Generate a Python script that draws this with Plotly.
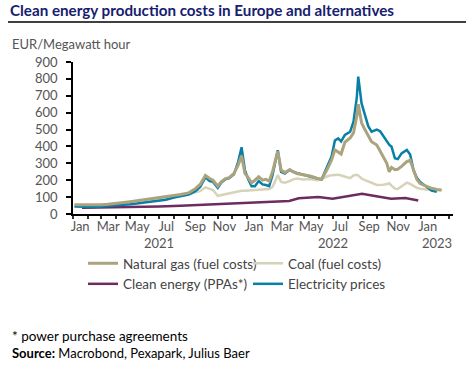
import plotly.graph_objects as go

# ---- data ----
dates_main = [
    "2021-01-04", "2021-01-18", "2021-02-01", "2021-02-15", "2021-03-01", "2021-03-15",
    "2021-04-01", "2021-04-15", "2021-05-01", "2021-05-15", "2021-06-01", "2021-06-15",
    "2021-07-01", "2021-07-15", "2021-08-01", "2021-08-15", "2021-09-01", "2021-09-15",
    "2021-09-25", "2021-10-06", "2021-10-15", "2021-10-22", "2021-11-01", "2021-11-08",
    "2021-11-17", "2021-11-25", "2021-12-05", "2021-12-14", "2021-12-21", "2021-12-28",
    "2022-01-04", "2022-01-11", "2022-01-18", "2022-01-26", "2022-02-03", "2022-02-10",
    "2022-02-17", "2022-02-24", "2022-03-03", "2022-03-07", "2022-03-14", "2022-03-22",
    "2022-04-01", "2022-04-08", "2022-04-16", "2022-04-29", "2022-05-14", "2022-05-28",
    "2022-06-07", "2022-06-18", "2022-06-28", "2022-07-05", "2022-07-12", "2022-07-18",
    "2022-07-26", "2022-08-06", "2022-08-13", "2022-08-20", "2022-08-23", "2022-08-30",
    "2022-09-06", "2022-09-13", "2022-09-20", "2022-10-01", "2022-10-08", "2022-10-15",
    "2022-10-22", "2022-10-27", "2022-11-01", "2022-11-08", "2022-11-14", "2022-11-22",
    "2022-12-03", "2022-12-10", "2022-12-17", "2022-12-24", "2022-12-31", "2023-01-13",
    "2023-01-24", "2023-02-04", "2023-02-14",
]
natural_gas = [
    55, 55, 52, 53, 55, 58, 62, 68, 73, 78, 85, 92,
    98, 100, 108, 115, 125, 150, 175, 228, 210, 200, 165, 190,
    210, 215, 240, 290, 345, 240, 215, 185, 200, 220, 200, 205,
    195, 250, 330, 372, 260, 245, 262, 250, 240, 232, 225, 212,
    205, 260, 320, 380, 365, 355, 425, 450, 480, 580, 650, 540,
    500, 460, 428, 408, 370, 330, 300, 250, 276, 262, 265, 282,
    310, 318, 262, 205, 180, 165, 152, 145, 142,
]
coal = [
    50, 50, 48, 50, 52, 54, 57, 62, 66, 70, 76, 82,
    88, 93, 100, 108, 118, 125, 135, 158, 148, 142, 108, 112,
    120, 124, 130, 134, 138, 138, 140, 140, 142, 145, 148, 150,
    148, 160, 200, 230, 190, 185, 195, 205, 210, 205, 207, 200,
    205, 222, 230, 232, 233, 228, 222, 212, 228, 232, 228, 210,
    200, 190, 185, 172, 172, 173, 178, 182, 168, 150, 148, 162,
    185, 178, 166, 155, 150, 145, 142, 142, 140,
]
electricity = [
    45, 43, 42, 42, 45, 47, 50, 55, 58, 62, 68, 75,
    82, 84, 98, 105, 115, 135, 160, 217, 195, 190, 155, 185,
    205, 212, 235, 310, 395, 260, 205, 165, 165, 195, 175, 172,
    165, 230, 320, 378, 250, 240, 262, 250, 243, 232, 222, 212,
    205, 278, 340, 435, 448, 430, 468, 487, 545, 690, 813, 655,
    580, 520, 487, 500, 490, 458, 428, 410, 398, 330, 325, 359,
    379, 352, 260, 215, 190, 160, 138, 132, None,
]
dates_clean = [
    "2021-01-20", "2021-03-01", "2021-05-01", "2021-07-01", "2021-08-15", "2021-10-01",
    "2021-11-15", "2022-01-01", "2022-02-15", "2022-03-31", "2022-04-20", "2022-05-31",
    "2022-06-30", "2022-07-31", "2022-08-31", "2022-09-30", "2022-10-31", "2022-11-30",
    "2022-12-27",
]
clean_energy = [
    37, 38, 41, 45, 49, 55, 57, 63, 70, 77, 93, 100,
    90, 103, 120, 105, 90, 95, 80,
]

month_tick_dates = [
    "2021-01-16", "2021-03-16", "2021-05-16", "2021-07-16", "2021-09-15", "2021-11-15",
    "2022-01-16", "2022-03-16", "2022-05-16", "2022-07-16", "2022-09-15", "2022-11-15",
    "2023-01-16",
]
month_tick_text = ["Jan", "Mar", "May", "Jul", "Sep", "Nov",
                   "Jan", "Mar", "May", "Jul", "Sep", "Nov", "Jan"]
year_boundaries = ["2021-01-01", "2022-01-01", "2023-01-01"]
year_label_dates = ["2021-07-01", "2022-07-01", "2023-02-05"]
year_labels = ["2021", "2022", "2023"]
y_ticks = [0, 100, 200, 300, 400, 500, 600, 700, 800, 900]

# ---- styling ----
FONT = "Lato"
GRAY = "#555555"
C_GAS = "#aba37d"
C_COAL = "#d6d3b8"
C_CLEAN = "#6d2b62"
C_ELEC = "#0a7fa6"

fig = go.Figure()
fig.add_trace(go.Scatter(x=dates_main, y=coal, name="Coal (fuel costs)", mode="lines",
                         line=dict(color=C_COAL, width=2.5), legendrank=2))
fig.add_trace(go.Scatter(x=dates_clean, y=clean_energy, name="Clean energy (PPAs*)", mode="lines",
                         line=dict(color=C_CLEAN, width=2.5), legendrank=3))
fig.add_trace(go.Scatter(x=dates_main, y=electricity, name="Electricity prices", mode="lines",
                         line=dict(color=C_ELEC, width=2.5), legendrank=4))
fig.add_trace(go.Scatter(x=dates_main, y=natural_gas, name="Natural gas (fuel costs)", mode="lines",
                         line=dict(color=C_GAS, width=3), legendrank=1))

L, R, T, B = 73, 13, 62, 151
W, H = 466, 365
pw, ph = W - L - R, H - T - B

def px_x(px):
    return (px - L) / pw

def px_y(py):
    return (H - B - py) / ph

x_range = ["2021-01-01", "2023-03-10"]

fig.update_layout(
    width=W, height=H,
    margin=dict(l=L, r=R, t=T, b=B, autoexpand=False),
    paper_bgcolor="white", plot_bgcolor="white",
    font=dict(family=FONT, size=13, color=GRAY),
    showlegend=True,
    title=dict(text="<b>Clean energy production costs in Europe and alternatives</b>",
               x=10 / W, xanchor="left", xref="container",
               y=1 - 11 / H, yanchor="middle", yref="container",
               font=dict(family=FONT, size=15.2, color="#16206e")),
    legend=dict(orientation="h", x=px_x(83), y=px_y(248), xanchor="left", yanchor="top",
                font=dict(family=FONT, size=13.5, color="#444444"),
                entrywidth=120, entrywidthmode="pixels", traceorder="normal",
                bgcolor="rgba(0,0,0,0)"),
    xaxis=dict(type="date", range=x_range, tickmode="array",
               tickvals=month_tick_dates, ticktext=month_tick_text,
               ticks="", showgrid=False, zeroline=False,
               showline=True, linecolor="black", linewidth=1.5,
               tickfont=dict(family=FONT, size=13, color=GRAY),
               minor=dict(ticks="outside", ticklen=3, tickwidth=2, tickcolor="#333333",
                          dtick="M1", tick0="2021-01-01", showgrid=False)),
    xaxis2=dict(type="date", overlaying="x", matches="x", anchor="y", side="bottom",
                range=x_range, tickmode="array", tickvals=year_boundaries,
                ticks="outside", ticklen=4, tickwidth=2, tickcolor="#333333",
                showticklabels=False, showgrid=False, zeroline=False, showline=False),
    xaxis3=dict(type="date", overlaying="x", matches="x", anchor="y", side="bottom",
                range=x_range, tickmode="array", tickvals=year_boundaries,
                ticks="inside", ticklen=3, tickwidth=2, tickcolor="#333333",
                showticklabels=False, showgrid=False, zeroline=False, showline=False),
    yaxis=dict(range=[0, 900], tickmode="array", tickvals=y_ticks,
               ticks="outside", ticklen=5, tickwidth=1.5, tickcolor="black",
               showline=True, linecolor="black", linewidth=1.5,
               showgrid=False, zeroline=False, ticklabelstandoff=6,
               tickfont=dict(family=FONT, size=13, color=GRAY)),
)

annotations = [
    dict(text="EUR/Megawatt hour", x=px_x(10), y=px_y(44), xref="paper", yref="paper",
         xanchor="left", yanchor="middle", showarrow=False,
         font=dict(family=FONT, size=13, color=GRAY)),
    dict(text="* power purchase agreements", x=px_x(10), y=px_y(336), xref="paper", yref="paper",
         xanchor="left", yanchor="middle", showarrow=False,
         font=dict(family=FONT, size=13.5, color="black")),
    dict(text="<b>Source:</b> Macrobond, Pexapark, Julius Baer", x=px_x(10), y=px_y(353),
         xref="paper", yref="paper", xanchor="left", yanchor="middle", showarrow=False,
         font=dict(family=FONT, size=13, color="black")),
]
for d, t in zip(year_label_dates, year_labels):
    annotations.append(dict(text=t, x=d, xref="x", y=px_y(243), yref="paper",
                            xanchor="center", yanchor="middle", showarrow=False,
                            font=dict(family=FONT, size=13, color=GRAY)))
fig.update_layout(annotations=annotations)

fig.add_shape(type="line", xref="paper", yref="paper",
              x0=px_x(8), x1=px_x(466), y0=px_y(22), y1=px_y(22),
              line=dict(color="black", width=1.5))

fig.write_html(
    "out.html",
    config={"displayModeBar": False},
    post_script="document.body.style.margin='0';document.body.style.overflow='hidden';",
)
